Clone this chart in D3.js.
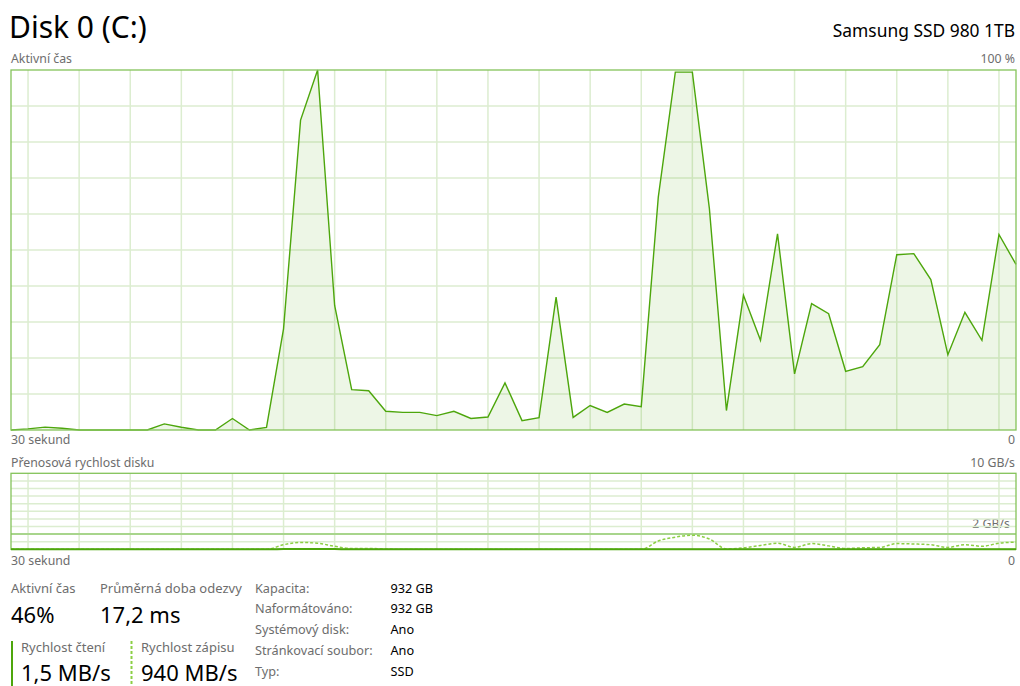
<!DOCTYPE html>
<html>
<head>
<meta charset="utf-8">
<script src="https://cdn.jsdelivr.net/npm/d3@7"></script>
<style>
  body { margin: 0; background: #fff; }
  svg { display: block; font-family: "Segoe UI", "Noto Sans", sans-serif; }
</style>
</head>
<body>
<svg id="disk" width="1020" height="686"></svg>
<script>
// aktivni cas, % (60 vzorku za 30 s)
var activeTime = [0, 0.3, 0.8, 0.5, 0, 0, 0, 0, 0, 1.7,
                  0.75, 0, 0, 3.2, 0, 0.7, 28.1, 86.1, 100, 34.6,
                  11.2, 10.9, 5.2, 4.9, 4.9, 4.0, 5.2, 3.2, 3.6, 13.1,
                  2.6, 3.4, 36.9, 3.5, 6.8, 4.9, 7.2, 6.5, 64.7, 99.4,
                  99.4, 61.5, 5.4, 37.4, 24.9, 54.5, 15.6, 35.1, 32.3, 16.3,
                  17.6, 23.7, 48.7, 49.0, 41.8, 20.9, 32.7, 24.9, 54.3, 46];

// rychlost cteni, GB/s
var readRate = [0, 0, 0, 0, 0, 0, 0, 0, 0, 0,
                0, 0, 0, 0, 0, 0, 0.03, 0.05, 0.05, 0.03,
                0, 0, 0, 0, 0, 0, 0, 0, 0, 0,
                0, 0, 0, 0, 0, 0, 0, 0, 0, 0,
                0, 0, 0, 0, 0, 0, 0, 0, 0, 0,
                0, 0, 0, 0, 0, 0, 0, 0, 0, 0.0015];

// rychlost zapisu, GB/s
var writeRate = [0, 0, 0, 0, 0, 0, 0, 0, 0, 0,
                 0, 0, 0, 0, 0, 0, 0.6, 0.9, 0.8, 0.4,
                 0.1, 0.1, 0.05, 0, 0, 0, 0, 0, 0, 0,
                 0, 0, 0, 0, 0, 0, 0, 0, 1.1, 1.6,
                 1.85, 1.35, 0.05, 0.2, 0.5, 0.8, 0.25, 0.75, 0.45, 0.1,
                 0.2, 0.25, 0.75, 0.7, 0.6, 0.25, 0.6, 0.4, 0.8, 0.94];

var infoLabels = ["Kapacita:", "Naformátováno:", "Systémový disk:", "Stránkovací soubor:", "Typ:"];
var infoValues = ["932 GB", "932 GB", "Ano", "Ano", "SSD"];

var svg = d3.select("#disk");
var lineGreen = "#4da60c",
    borderGreen = "#84c35a",
    gridGreen = "#dcedd0",
    greyText = "#6d6d6d";

var x = d3.scaleLinear().domain([0, activeTime.length - 1]).range([11, 1016]);
var gridIdx = d3.range(1, activeTime.length, 3);

// ---- hlavicka
svg.append("text").attr("x", 9).attr("y", 38)
    .style("font-size", "30px").style("fill", "#000")
    .text("Disk 0 (C:)");
svg.append("text").attr("x", 1015).attr("y", 37)
    .attr("text-anchor", "end")
    .style("font-size", "17.4px").style("fill", "#000")
    .text("Samsung SSD 980 1TB");

function smallText(xx, yy, txt, anchor) {
    return svg.append("text").attr("x", xx).attr("y", yy)
        .attr("text-anchor", anchor || "start")
        .style("font-size", "12.3px").style("fill", greyText)
        .text(txt);
}

// ---- graf aktivniho casu
var yA = d3.scaleLinear().domain([0, 100]).range([430, 70]);

smallText(11, 63, "Aktivní čas");
smallText(1015, 63, "100 %", "end");
smallText(11, 444, "30 sekund");
smallText(1015, 444, "0", "end");

var gTop = svg.append("g");
gTop.selectAll("line.v").data(gridIdx).enter().append("line")
    .attr("class", "v")
    .attr("x1", function(d){ return x(d); })
    .attr("x2", function(d){ return x(d); })
    .attr("y1", yA(100)).attr("y2", yA(0))
    .style("stroke", gridGreen).style("stroke-width", 1.5);
gTop.selectAll("line.h").data(d3.range(10, 100, 10)).enter().append("line")
    .attr("class", "h")
    .attr("x1", x(0)).attr("x2", x(59))
    .attr("y1", function(d){ return yA(d); })
    .attr("y2", function(d){ return yA(d); })
    .style("stroke", gridGreen).style("stroke-width", 1.5);

var area = d3.area()
    .x(function(d, i){ return x(i); })
    .y0(yA(0))
    .y1(function(d){ return yA(d); });
var line = d3.line()
    .x(function(d, i){ return x(i); })
    .y(function(d){ return yA(d); });

gTop.append("path").datum(activeTime)
    .attr("d", area)
    .style("fill", lineGreen).style("fill-opacity", 0.1);
gTop.append("path").datum(activeTime)
    .attr("d", line)
    .style("fill", "none").style("stroke", lineGreen).style("stroke-width", 1.4);
gTop.append("rect")
    .attr("x", x(0)).attr("y", yA(100))
    .attr("width", x(59) - x(0)).attr("height", yA(0) - yA(100))
    .style("fill", "none").style("stroke", borderGreen).style("stroke-width", 1.3);

// ---- graf prenosove rychlosti
var yT = d3.scaleLinear().domain([0, 10]).range([549.3, 473.3]);

smallText(11, 467, "Přenosová rychlost disku");
smallText(1015, 467, "10 GB/s", "end");
smallText(1010, 528, "2 GB/s", "end");
smallText(11, 565, "30 sekund");
smallText(1015, 565, "0", "end");

var gBot = svg.append("g");
gBot.selectAll("line.v").data(gridIdx).enter().append("line")
    .attr("class", "v")
    .attr("x1", function(d){ return x(d); })
    .attr("x2", function(d){ return x(d); })
    .attr("y1", yT(10)).attr("y2", yT(0))
    .style("stroke", gridGreen).style("stroke-width", 1.5);
gBot.selectAll("line.h").data(d3.range(1, 10)).enter().append("line")
    .attr("class", "h")
    .attr("x1", x(0)).attr("x2", x(59))
    .attr("y1", function(d){ return yT(d); })
    .attr("y2", function(d){ return yT(d); })
    .style("stroke", function(d){ return d === 2 ? "#a8d58c" : gridGreen; })
    .style("stroke-width", function(d){ return d === 2 ? 2 : 1.5; });

var lineT = d3.line()
    .x(function(d, i){ return x(i); })
    .y(function(d){ return yT(d); })
    .curve(d3.curveMonotoneX);

gBot.append("rect")
    .attr("x", x(0)).attr("y", yT(10))
    .attr("width", x(59) - x(0)).attr("height", yT(0) - yT(10))
    .style("fill", "none").style("stroke", borderGreen).style("stroke-width", 1.3);
gBot.append("path").datum(writeRate)
    .attr("d", lineT)
    .style("fill", "none").style("stroke", "#8ccf45")
    .style("stroke-width", 1.5).style("stroke-dasharray", "3,2");
gBot.append("path").datum(readRate)
    .attr("d", lineT)
    .style("fill", "none").style("stroke", lineGreen).style("stroke-width", 2);

// ---- statistiky
function stat(xx, label, value, yl, yv) {
    svg.append("text").attr("x", xx).attr("y", yl)
        .style("font-size", "13px").style("fill", greyText).text(label);
    svg.append("text").attr("x", xx).attr("y", yv)
        .style("font-size", "22px").style("fill", "#000").text(value);
}
stat(11, "Aktivní čas", "46%", 593, 623);
stat(100, "Průměrná doba odezvy", "17,2 ms", 593, 623);
stat(21, "Rychlost čtení", "1,5 MB/s", 652, 681);
stat(141, "Rychlost zápisu", "940 MB/s", 652, 681);

svg.append("line").attr("x1", 12).attr("x2", 12).attr("y1", 641).attr("y2", 686)
    .style("stroke", lineGreen).style("stroke-width", 2);
svg.append("line").attr("x1", 131.5).attr("x2", 131.5).attr("y1", 641).attr("y2", 686)
    .style("stroke", "#8ccf45").style("stroke-width", 2).style("stroke-dasharray", "3,2");

var info = svg.append("g").style("font-size", "12.7px");
info.selectAll("text.l").data(infoLabels).enter().append("text")
    .attr("class", "l")
    .attr("x", 255)
    .attr("y", function(d, i){ return 592.5 + i * 20.8; })
    .style("fill", greyText)
    .text(function(d){ return d; });
info.selectAll("text.v").data(infoValues).enter().append("text")
    .attr("class", "v")
    .attr("x", 390.5)
    .attr("y", function(d, i){ return 592.5 + i * 20.8; })
    .style("fill", "#000")
    .text(function(d){ return d; });
</script>
</body>
</html>
